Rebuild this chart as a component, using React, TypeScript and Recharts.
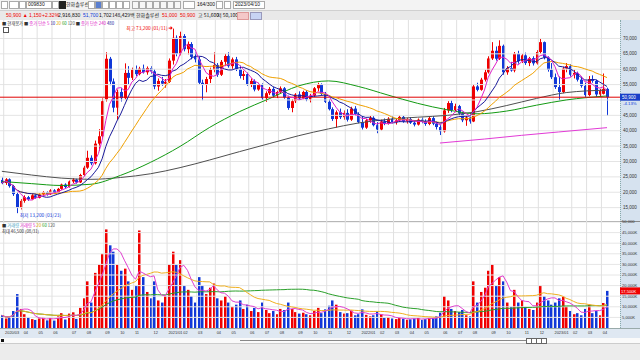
import React from 'react';
import { ComposedChart, Bar, Line, XAxis, YAxis, ReferenceLine, ReferenceDot } from 'recharts';

// weekly candles, [open, high, low, close] in thousands of won
const ohlc: number[][] = [
  [24.0,24.8,22.6,23.0],[23.0,24.6,22.4,24.2],[24.2,24.5,21.5,22.0],[22.0,22.4,18.8,19.4],[19.4,20.0,13.2,15.0],
  [15.0,17.8,14.4,17.2],[17.2,19.0,16.6,18.4],[18.4,18.8,17.2,17.7],[17.7,19.4,17.4,19.0],[19.0,19.5,17.9,18.2],
  [18.2,19.6,18.0,19.3],[19.3,20.4,18.9,20.0],[20.0,20.3,18.9,19.3],[19.3,21.0,19.1,20.6],[20.6,21.0,19.5,19.8],
  [19.8,21.4,19.6,21.1],[21.1,22.8,20.8,22.5],[22.5,22.9,21.3,21.7],[21.7,23.8,21.5,23.5],[23.5,24.6,23.0,24.1],
  [24.1,24.4,22.8,23.2],[23.2,26.0,23.0,25.6],[25.6,28.6,25.2,28.0],[28.0,33.5,27.6,31.2],[31.2,32.0,28.8,29.4],
  [29.4,36.8,29.0,35.8],[35.8,40.5,33.5,38.2],[38.2,50.5,37.8,49.6],[50.2,65.5,49.5,63.4],[63.4,64.0,54.8,56.0],
  [56.0,57.0,46.0,47.5],[47.5,53.4,43.6,52.6],[52.6,54.0,49.5,50.6],[50.6,61.9,50.2,58.8],[58.8,61.0,55.0,57.2],
  [57.2,60.5,56.5,59.8],[59.8,61.2,57.8,58.4],[58.4,60.8,58.0,60.2],[60.2,61.5,58.6,59.0],[59.0,60.9,58.2,60.4],
  [60.4,61.0,58.5,59.3],[59.3,60.0,53.5,54.4],[54.4,57.0,53.0,56.2],[56.2,57.5,54.6,55.3],[55.3,56.8,54.0,55.9],
  [55.9,63.5,55.5,62.8],[62.8,73.2,61.5,70.2],[70.2,71.0,64.2,65.0],[65.0,72.2,64.5,70.8],[70.8,71.4,65.8,66.5],
  [66.5,69.0,64.8,68.2],[68.2,68.8,63.2,64.0],[64.0,65.4,62.2,63.2],[63.2,64.0,55.0,55.6],[55.6,56.6,49.9,54.9],
  [54.9,57.5,52.5,56.8],[56.8,60.5,55.5,59.8],[59.8,65.5,59.0,61.4],[61.4,62.0,57.5,58.2],[58.2,63.0,57.8,62.4],
  [62.4,65.0,61.0,64.3],[64.3,65.5,60.5,61.0],[61.0,63.8,60.0,63.2],[63.2,64.0,59.4,60.0],[60.0,61.2,57.0,57.8],
  [57.8,59.5,56.5,58.4],[58.4,58.9,54.6,55.0],[55.0,57.0,54.2,56.2],[56.2,56.7,52.8,53.4],[53.4,55.6,53.0,55.0],
  [55.0,55.4,50.0,50.6],[50.6,52.8,49.4,52.2],[52.2,54.2,51.6,53.6],[53.6,54.2,50.8,51.4],[51.4,53.0,50.6,52.6],
  [52.6,54.4,52.2,53.8],[53.8,54.2,50.4,50.8],[50.8,51.4,46.8,47.4],[47.4,50.2,46.0,49.6],[49.6,52.2,49.0,51.8],
  [51.8,52.8,50.0,50.5],[50.5,53.0,50.2,52.6],[52.6,53.2,49.6,50.2],[50.2,52.0,49.2,51.4],[51.4,54.2,51.0,53.8],
  [53.8,55.6,52.8,55.0],[55.0,55.4,51.6,52.0],[52.0,52.6,49.0,49.4],[49.4,50.2,46.6,47.0],[47.0,47.6,43.2,43.8],
  [43.8,46.6,41.0,46.0],[46.0,47.2,43.8,44.4],[44.4,46.6,43.6,45.8],[45.8,47.0,43.0,43.6],[43.6,47.8,43.2,47.2],
  [47.2,48.0,44.8,45.4],[45.4,46.0,42.4,42.8],[42.8,44.6,40.4,41.0],[41.0,43.8,40.6,43.4],[43.4,44.8,42.6,44.2],
  [44.2,44.7,41.4,41.8],[41.8,42.8,39.2,40.4],[40.4,43.6,40.0,43.0],[43.0,44.0,41.8,42.3],[42.3,44.4,42.0,43.9],
  [43.9,44.6,42.4,42.8],[42.8,43.8,42.0,43.4],[43.4,45.0,42.8,44.5],[44.5,44.8,42.6,43.0],[43.0,44.2,42.3,43.8],
  [43.8,44.4,42.2,42.6],[42.6,43.4,41.4,42.0],[42.0,44.0,41.7,43.6],[43.6,44.3,42.4,42.9],[42.9,43.7,41.6,42.2],
  [42.2,44.6,41.8,44.1],[44.1,44.8,41.8,42.3],[42.3,43.0,40.4,41.2],[41.2,41.8,38.6,39.8],[39.8,47.4,39.4,46.6],
  [46.6,49.6,45.8,49.0],[49.0,49.8,46.0,46.7],[46.7,48.8,46.0,48.0],[48.0,48.4,45.0,45.6],[45.6,46.2,42.8,43.4],
  [43.4,44.8,41.6,44.3],[44.3,44.6,42.3,43.0],[43.0,55.0,42.8,54.4],[54.4,55.6,52.8,53.3],[53.3,57.2,53.0,56.6],
  [56.6,59.8,56.0,59.0],[59.0,64.2,58.6,63.5],[63.5,68.8,63.0,66.0],[66.0,67.4,62.8,63.4],[63.4,69.4,63.0,67.6],
  [67.6,68.0,58.2,59.0],[59.0,61.0,58.2,60.4],[60.4,62.4,59.2,59.6],[59.6,65.6,59.0,65.0],[65.0,66.0,61.8,62.6],
  [62.6,65.0,62.0,64.5],[64.5,65.4,61.4,62.0],[62.0,64.0,61.0,63.6],[63.6,64.2,61.2,61.9],[61.9,66.2,61.5,65.6],
  [65.6,70.0,65.0,68.8],[68.8,69.0,63.2,63.8],[63.8,64.2,59.2,59.8],[59.8,62.0,56.8,57.4],[57.4,58.6,53.6,54.2],
  [54.2,57.6,49.9,52.6],[52.6,60.8,52.2,60.2],[60.2,62.0,59.0,61.0],[61.0,61.6,57.6,58.2],[58.2,59.8,57.0,58.8],
  [58.8,59.2,56.0,56.6],[56.6,57.4,54.0,54.6],[54.6,55.6,51.0,51.6],[51.6,57.8,51.2,56.8],[56.8,58.0,55.6,56.2],
  [56.2,56.6,51.0,51.8],[51.8,53.6,51.0,52.9],[52.0,58.6,51.8,53.6],[53.6,54.0,44.8,50.9],
];

// weekly volume, thousands of shares
const volume: number[] = [
  6000,4500,5200,8000,16000,9000,6500,5000,4200,3800,4500,5200,3600,4800,3500,5500,7000,4000,6800,7400,
  4300,9500,14000,22000,12000,26000,30000,35000,46500,39000,36000,30000,27000,28000,22000,18000,20000,46000,24000,17000,
  14000,22000,13000,12000,15000,30000,36000,30000,32000,20000,18000,15000,12000,24000,20000,16000,19000,21000,14000,13000,
  15000,12000,10000,11000,13000,9000,11000,8000,9500,7500,12000,8500,7000,8000,6500,9000,8500,12000,9000,7500,
  6800,7200,6500,6000,8000,9500,7000,8800,10500,13000,11000,7500,6800,7000,8200,6000,6500,8800,6200,5500,
  6000,7800,6500,4800,5200,4500,4200,5000,4400,3900,4100,4500,4800,3800,4200,5000,4800,5500,7200,15000,
  13000,9000,8000,7500,8500,6000,5500,22000,12000,17000,19000,27000,30000,20000,24000,22000,12000,10000,18000,12000,
  13000,10000,9000,8500,12000,20000,15000,13000,11000,12000,14000,15000,10000,8000,6500,7000,6000,9000,11000,7000,
  8000,6000,11800,17500,
];

// long moving averages: [week index, value in thousands]
const ma60Read: number[][] = [[0,23.5],[8,22.8],[16,22.2],[24,22.6],[32,25.5],[40,29.7],[48,34.9],[56,41.1],[64,46.2],[72,50.4],[80,54.6],[88,56.2],[96,54.4],[104,51.6],[112,48.9],[120,46.8],[128,45.5],[136,46.4],[144,48.3],[152,50.0],[163,51.3]];
const ma120Read: number[][] = [[0,26.8],[8,25.6],[16,24.6],[24,24.2],[32,24.8],[40,26.0],[48,28.0],[56,30.5],[64,33.2],[72,35.8],[80,38.4],[88,40.6],[96,42.5],[104,43.7],[112,44.4],[120,45.0],[128,46.2],[136,48.2],[144,50.5],[152,52.4],[163,53.2]];
const ma240Read: number[][] = [[118,36.0],[130,37.3],[140,38.5],[150,39.6],[163,41.0]];

const priceTicks = [15000,20000,25000,30000,35000,40000,45000,50000,55000,60000,65000,70000];
const volTicks = [5000,10000,15000,20000,25000,30000,35000,40000,45000,50000];
const lastPrice = 50900;
const lastChange = '-4.13%';
const highLabel = '최고 73,200 (01/11)';
const lowLabel = '최저 13,200 (03/23)';

const RED = '#f00000';
const BLUE = '#1038d8';
const FONT = '"Noto Sans CJK KR", "DejaVu Sans", sans-serif';
const NUMFONT = '"Liberation Sans", Arial, sans-serif';

const pad = (n: number) => (n < 10 ? '0' + n : '' + n);
const start = Date.UTC(2020, 1, 24);
const labels = ohlc.map((_, i) => {
  const d = new Date(start + i * 7 * 86400000);
  return `${d.getUTCFullYear()}/${pad(d.getUTCMonth() + 1)}/${pad(d.getUTCDate())}`;
});
const blanks = ['_1', '_2', '_3'];

const sma = (arr: number[], n: number, i: number) => {
  const s = Math.max(0, i - n + 1);
  let t = 0;
  for (let k = s; k <= i; k++) t += arr[k];
  return t / (i - s + 1);
};
const closes = ohlc.map((r) => r[3] * 1000);
const readMap = (pts: number[][]) => {
  const m: Record<number, number> = {};
  pts.forEach(([i, v]) => (m[i] = v * 1000));
  return m;
};
const m60 = readMap(ma60Read);
const m120 = readMap(ma120Read);
const m240 = readMap(ma240Read);

const rows: any[] = [
  ...ohlc.map((r, i) => ({
    d: labels[i],
    o: r[0] * 1000, h: r[1] * 1000, l: r[2] * 1000, c: r[3] * 1000,
    v: volume[i],
    ma5: sma(closes, 5, i), ma10: sma(closes, 10, i), ma20: sma(closes, 20, i),
    ma60: m60[i] ?? null, ma120: m120[i] ?? null, ma240: m240[i] ?? null,
    vma5: sma(volume, 5, i), vma20: sma(volume, 20, i), vma60: sma(volume, 60, i),
  })),
  ...blanks.map((b) => ({ d: b })),
];

const monthStarts = labels.filter((l, i) => i > 0 && l.slice(0, 7) !== labels[i - 1].slice(0, 7));
const monthLabel = (l: string) => {
  if (!l || l.startsWith('_')) return '';
  const [y, m] = l.split('/');
  if (m === '01' || l === monthStarts[0]) return `${y}/${m}`;
  return m;
};

const Candle = (p: any) => {
  const { x, y, width, height, payload } = p;
  if (!payload || payload.h == null) return null;
  const top = Math.min(y, y + height);
  const hh = Math.abs(height);
  const { o, h, l, c } = payload;
  const rng = h - l || 1;
  const toY = (v: number) => top + ((h - v) / rng) * hh;
  const col = c >= o ? RED : BLUE;
  const cx = Math.round(x + width / 2) + 0.5;
  const b1 = toY(Math.max(o, c));
  const b2 = toY(Math.min(o, c));
  const bw = 3;
  return (
    <g>
      <line x1={cx} x2={cx} y1={top} y2={top + hh} stroke={col} strokeWidth={1} />
      <rect x={cx - bw / 2} y={b1} width={bw} height={Math.max(1, b2 - b1)} fill={col} />
    </g>
  );
};

const VolBar = (p: any) => {
  const { x, y, width, height, payload } = p;
  if (!payload || payload.v == null) return null;
  const col = payload.c >= payload.o ? RED : BLUE;
  const cx = Math.round(x + width / 2);
  return <rect x={cx - 1} y={Math.min(y, y + height)} width={2.5} height={Math.abs(height)} fill={col} />;
};

const fmt = (v: number) => v.toLocaleString('en-US');

const priceTick = { fontSize: 4.5, fill: '#333', fontFamily: NUMFONT };
const volTick = { fontSize: 4.1, fill: '#333', fontFamily: NUMFONT };

const PriceTag = (props: any) => {
  const vb = props.viewBox;
  if (!vb) return null;
  const yy = vb.y;
  return (
    <g>
      <rect x={620} y={yy - 3.5} width={20} height={7} fill="#1a3fc8" />
      <text x={622} y={yy + 1.7} fontSize={4.5} fill="#fff" fontFamily={NUMFONT}>{fmt(lastPrice)}</text>
      <text x={623} y={yy + 8} fontSize={4.3} fill={BLUE} fontFamily={NUMFONT}>{lastChange}</text>
    </g>
  );
};

const VolTag = (props: any) => {
  const vb = props.viewBox;
  if (!vb) return null;
  const yy = vb.y;
  return (
    <g>
      <rect x={620} y={yy - 3.5} width={20} height={7} fill="#f00000" />
      <text x={621} y={yy + 1.7} fontSize={4.1} fill="#fff" fontFamily={NUMFONT}>{fmt(volume[volume.length - 1])}K</text>
    </g>
  );
};

const HighTag = (props: any) => {
  const vb = props.viewBox;
  if (!vb) return null;
  const cx = vb.x + (vb.width || 0) / 2;
  return (
    <g>
      <text x={cx - 5} y={vb.y + 1.5} fontSize={4.8} fill={RED} textAnchor="end" fontFamily={FONT}>{highLabel}</text>
      <path d={`M${cx - 4} ${vb.y - 0.5} L${cx - 1} ${vb.y - 0.5}`} stroke={RED} strokeWidth={1} />
      <path d={`M${cx - 2} ${vb.y - 2.5} L${cx} ${vb.y - 0.5} L${cx - 2} ${vb.y + 1.5} Z`} fill={RED} />
    </g>
  );
};

const LowTag = (props: any) => {
  const vb = props.viewBox;
  if (!vb) return null;
  const cx = vb.x + (vb.width || 0) / 2;
  return (
    <text x={cx + 3} y={vb.y + 4} fontSize={4.8} fill={BLUE} fontFamily={FONT}>{lowLabel}</text>
  );
};

const XTick = (props: any) => {
  const { x, y, payload } = props;
  return (
    <text x={x - 0.5} y={y + 6} fontSize={3.9} fill="#333" fontFamily={NUMFONT}>{monthLabel(payload.value)}</text>
  );
};

const hdrText: React.CSSProperties = { position: 'absolute', fontSize: 5, lineHeight: '8px', fontFamily: FONT, whiteSpace: 'nowrap' };
const box = (left: number, width: number, bg = '#fff', top = 1): React.CSSProperties => ({
  position: 'absolute', left, top, width, height: 6, border: '1px solid #aaa', background: bg,
});

export default function App() {
  return (
    <div style={{ position: 'relative', width: 640, height: 360, background: '#ececec', overflow: 'hidden', fontFamily: FONT }}>
      <style>{'body{margin:0}'}</style>
      {/* toolbar row 1 */}
      <div style={{ position: 'absolute', left: 0, top: 0, width: 640, height: 10, background: '#f3f3f3', borderBottom: '1px solid #d0d0d0' }} />
      <div style={box(1, 5)} />
      <div style={box(9, 8)} />
      <div style={box(19, 5)} />
      <div style={box(26, 24)} />
      <span style={{ ...hdrText, left: 28, top: 0, color: '#111', fontFamily: NUMFONT }}>009830</span>
      <div style={box(52, 5)} />
      <div style={{ ...box(59, 5, '#222'), border: '1px solid #222' }} />
      <span style={{ ...hdrText, left: 66, top: 0, color: '#111' }}>한화솔루션</span>
      {[88, 95, 102, 109, 116, 123].map((x) => (
        <div key={x} style={box(x, 5, x === 95 ? '#5a7fd0' : '#fff')} />
      ))}
      {[132, 139, 146, 153, 160, 167, 174].map((x) => (
        <div key={x} style={box(x, 5, '#f7f7f7')} />
      ))}
      <div style={box(183, 10)} />
      <span style={{ ...hdrText, left: 197, top: 0, color: '#111', fontFamily: NUMFONT }}>164/300</span>
      <div style={box(216, 5)} />
      <div style={box(224, 5)} />
      <div style={box(233, 30)} />
      <span style={{ ...hdrText, left: 235, top: 0, color: '#111', fontFamily: NUMFONT }}>2023/04/10</span>

      {/* toolbar row 2 */}
      <div style={{ position: 'absolute', left: 0, top: 11, width: 640, height: 9, background: '#e9e9e9', borderBottom: '1px solid #c8c8c8' }} />
      <span style={{ ...hdrText, left: 6, top: 11, color: RED, fontFamily: NUMFONT }}>50,900 ▲</span>
      <span style={{ ...hdrText, left: 29, top: 11, color: RED, fontFamily: NUMFONT }}>1,150</span>
      <span style={{ ...hdrText, left: 42, top: 11, color: RED, fontFamily: NUMFONT }}>+2.32%</span>
      <span style={{ ...hdrText, left: 58, top: 11, color: '#111', fontFamily: NUMFONT }}>2,916,830</span>
      <span style={{ ...hdrText, left: 83, top: 11, color: BLUE, fontFamily: NUMFONT }}>51,700</span>
      <span style={{ ...hdrText, left: 99, top: 11, color: '#111', fontFamily: NUMFONT }}>1,702</span>
      <span style={{ ...hdrText, left: 112, top: 11, color: '#111' }}>148,429백</span>
      <span style={{ ...hdrText, left: 136, top: 11, color: '#111' }}>한화솔루션</span>
      <span style={{ ...hdrText, left: 162, top: 11, color: RED, fontFamily: NUMFONT }}>51,000</span>
      <span style={{ ...hdrText, left: 180, top: 11, color: RED, fontFamily: NUMFONT }}>50,900</span>
      <span style={{ ...hdrText, left: 198, top: 11, color: '#111' }}>고 51,600</span>
      <span style={{ ...hdrText, left: 217, top: 11, color: '#111' }}>저 50,100</span>
      <div style={{ position: 'absolute', left: 237, top: 12, width: 10, height: 6, background: '#f4c8c8', border: '1px solid #d99' }} />
      <div style={{ position: 'absolute', left: 250, top: 12, width: 10, height: 6, background: '#c8d4f4', border: '1px solid #99b' }} />

      {/* chart backgrounds */}
      <div style={{ position: 'absolute', left: 0, top: 20, width: 620, height: 318, background: '#ffffff' }} />
      <div style={{ position: 'absolute', left: 620, top: 20, width: 20, height: 318, background: '#d6e2ef', borderLeft: '1px dotted #8aa' }} />
      <div style={{ position: 'absolute', left: 0, top: 328, width: 640, height: 10, background: '#dfe8f2', borderTop: '1px solid #9aa' }} />
      <div style={{ position: 'absolute', left: 0, top: 221, width: 640, height: 1, background: '#888' }} />

      {/* price panel */}
      <div style={{ position: 'absolute', left: 0, top: 20 }}>
        <ComposedChart width={640} height={203} data={rows} margin={{ top: 0, right: 0, bottom: 0, left: 0 }} barCategoryGap={0}>
          <XAxis dataKey="d" hide />
          <YAxis yAxisId="p" orientation="right" width={20} domain={[10000, 76000]} ticks={priceTicks}
            tickFormatter={(v: number) => (v === 50000 ? '' : fmt(v))}
            tick={priceTick} tickLine={false} tickSize={0} axisLine={false} tickMargin={3} interval={0} />
          {priceTicks.map((t) => (
            <ReferenceLine key={'h' + t} yAxisId="p" y={t} stroke="#e4e4e4" strokeWidth={1} />
          ))}
          {monthStarts.map((m) => (
            <ReferenceLine key={'v' + m} yAxisId="p" x={m} stroke="#e0e0e0" strokeWidth={1} position="start" />
          ))}
          <Line yAxisId="p" dataKey="ma240" stroke="#e23ad6" strokeWidth={1} dot={false} connectNulls type="monotone" isAnimationActive={false} />
          <Line yAxisId="p" dataKey="ma120" stroke="#505050" strokeWidth={1} dot={false} connectNulls type="monotone" isAnimationActive={false} />
          <Line yAxisId="p" dataKey="ma60" stroke="#139a13" strokeWidth={1} dot={false} connectNulls type="monotone" isAnimationActive={false} />
          <ReferenceLine yAxisId="p" y={lastPrice} stroke="#e00000" strokeWidth={1} label={<PriceTag />} />
          <Bar yAxisId="p" dataKey={(d: any) => (d.h == null ? null : [d.l, d.h])} shape={<Candle />} isAnimationActive={false} />
          <Line yAxisId="p" dataKey="ma20" stroke="#f0a000" strokeWidth={1} dot={false} type="linear" isAnimationActive={false} />
          <Line yAxisId="p" dataKey="ma10" stroke="#1a1a9a" strokeWidth={1} dot={false} type="linear" isAnimationActive={false} />
          <Line yAxisId="p" dataKey="ma5" stroke="#e020c8" strokeWidth={1} dot={false} type="linear" isAnimationActive={false} />
          <ReferenceDot yAxisId="p" x={labels[46]} y={ohlc[46][1] * 1000} r={0} label={<HighTag />} />
          <ReferenceDot yAxisId="p" x={labels[4]} y={ohlc[4][2] * 1000} r={0} label={<LowTag />} />
        </ComposedChart>
      </div>

      {/* volume panel (svg starts 6px higher so the top tick label is not clipped) */}
      <div style={{ position: 'absolute', left: 0, top: 216 }}>
        <ComposedChart width={640} height={122} data={rows} margin={{ top: 6, right: 0, bottom: 0, left: 0 }} barCategoryGap={0}>
          <XAxis dataKey="d" ticks={monthStarts} interval={0} height={10} tick={<XTick />} tickLine={false} tickSize={0} tickMargin={0} axisLine={false} />
          <YAxis yAxisId="v" orientation="right" width={20} domain={[0, 50000]} ticks={volTicks}
            tickFormatter={(v: number) => (v === 50000 ? '50,000' : fmt(v) + 'K')}
            tick={volTick} tickLine={false} tickSize={0} axisLine={false} tickMargin={2} interval={0} />
          {volTicks.map((t) => (
            <ReferenceLine key={'vh' + t} yAxisId="v" y={t} stroke="#e6e6e6" strokeWidth={1} />
          ))}
          {monthStarts.map((m) => (
            <ReferenceLine key={'vv' + m} yAxisId="v" x={m} stroke="#e0e0e0" strokeWidth={1} position="start" />
          ))}
          <Bar yAxisId="v" dataKey="v" shape={<VolBar />} isAnimationActive={false} />
          <Line yAxisId="v" dataKey="vma60" stroke="#2aa02a" strokeWidth={1} dot={false} isAnimationActive={false} />
          <Line yAxisId="v" dataKey="vma20" stroke="#f0b020" strokeWidth={1} dot={false} isAnimationActive={false} />
          <Line yAxisId="v" dataKey="vma5" stroke="#e040d0" strokeWidth={1} dot={false} isAnimationActive={false} />
          <ReferenceLine yAxisId="v" y={volume[volume.length - 1]} stroke="none" label={<VolTag />} />
        </ComposedChart>
      </div>

      {/* panel legends */}
      <span style={{ ...hdrText, left: 2, top: 20, fontSize: 4.3, lineHeight: '6px', color: '#333' }}>
        ■ 현재봉가 ■ <span style={{ color: '#e020c8' }}>종가 단순 5</span> <span style={{ color: '#1a1a9a' }}>10</span>{' '}
        <span style={{ color: '#e0a000' }}>20</span> <span style={{ color: '#139a13' }}>60</span> <span style={{ color: '#555' }}>120</span>{' '}
        ■ <span style={{ color: '#e020c8' }}>종가 단순 240</span> <span style={{ color: '#1a1a9a' }}>480</span>
      </span>
      <div style={{ position: 'absolute', left: 3, top: 27, width: 4, height: 4, border: '1px solid #555', background: '#fff' }} />
      <span style={{ ...hdrText, left: 2, top: 222, fontSize: 4.3, lineHeight: '6px', color: '#333' }}>
        ■ <span style={{ color: '#3aa0c0' }}>거래량</span> <span style={{ color: '#e020c8' }}>거래량 5</span>{' '}
        <span style={{ color: '#e0a000' }}>20</span> <span style={{ color: '#139a13' }}>60</span> <span style={{ color: '#555' }}>120</span>
      </span>
      <span style={{ ...hdrText, left: 2, top: 228, fontSize: 4.3, lineHeight: '6px', color: '#333' }}>최대 46,500 (08/31)</span>

      {/* scroll bar */}
      <div style={{ position: 'absolute', left: 0, top: 338, width: 640, height: 5, background: '#fafafa', borderBottom: '1px solid #ccc' }} />
      <div style={{ position: 'absolute', left: 1, top: 339, width: 3, height: 3, background: '#111' }} />
      <div style={{ position: 'absolute', left: 240, top: 340, width: 300, height: 1, background: '#888' }} />
      {[526, 531, 536, 541].map((x) => (
        <div key={x} style={{ position: 'absolute', left: x, top: 338, width: 4, height: 4, border: '1px solid #666', background: '#fff' }} />
      ))}
    </div>
  );
}
